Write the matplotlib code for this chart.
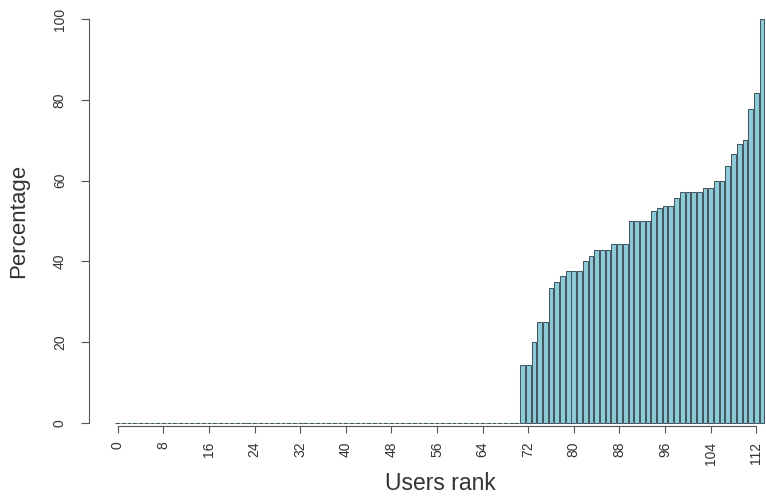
import matplotlib
matplotlib.use("Agg")
import matplotlib.pyplot as plt

plt.rcParams['font.family'] = ['Liberation Sans', 'DejaVu Sans']

# Users with zero percentage (ranks 0..70)
zero_values = [0, 0, 0, 0, 0, 0, 0, 0, 0, 0,
               0, 0, 0, 0, 0, 0, 0, 0, 0, 0,
               0, 0, 0, 0, 0, 0, 0, 0, 0, 0,
               0, 0, 0, 0, 0, 0, 0, 0, 0, 0,
               0, 0, 0, 0, 0, 0, 0, 0, 0, 0,
               0, 0, 0, 0, 0, 0, 0, 0, 0, 0,
               0, 0, 0, 0, 0, 0, 0, 0, 0, 0,
               0]
# Users with non-zero percentage (ranks 71..113)
nonzero_values = [14.3, 14.3, 20.0, 25.0, 25.0, 33.3, 35.0, 36.4, 37.5, 37.5,
                  37.5, 40.0, 41.2, 42.9, 42.9, 42.9, 44.4, 44.4, 44.4, 50.0,
                  50.0, 50.0, 50.0, 52.6, 53.3, 53.8, 53.8, 55.6, 57.1, 57.1,
                  57.1, 57.1, 58.3, 58.3, 60.0, 60.0, 63.6, 66.7, 69.2, 70.0,
                  77.8, 81.8, 100.0]
percentages = zero_values + nonzero_values
ranks = list(range(len(percentages)))
x_ticks = [0, 8, 16, 24, 32, 40, 48, 56, 64, 72, 80, 88, 96, 104, 112]
y_ticks = [0, 20, 40, 60, 80, 100]

W, H = 766, 497
fig = plt.figure(figsize=(W / 100, H / 100), dpi=100)

left_px, right_px = 89, 766
top_px, bottom_px = 19.3, 422.7
ax = fig.add_axes([left_px / W, (H - bottom_px) / H,
                   (right_px - left_px) / W, (bottom_px - top_px) / H])

unit = 5.702
x0 = 117.7
ax.set_xlim((left_px - x0) / unit, (right_px - x0) / unit)
ax.set_ylim(0, 100)

ax.bar(ranks, percentages, width=0.83, color='#8ecbd9',
       edgecolor='#435961', linewidth=0.75, clip_on=False)

axis_col = '#555555'
for s in ['top', 'right']:
    ax.spines[s].set_visible(False)
ax.spines['left'].set_bounds(0, 100)
ax.spines['left'].set_color(axis_col)
ax.spines['bottom'].set_bounds(0, 112)
ax.spines['bottom'].set_color(axis_col)
ax.spines['bottom'].set_position(('outward', 2.5))

ax.set_xticks(x_ticks)
ax.set_xticklabels([str(v) for v in x_ticks], rotation=90)
ax.set_yticks(y_ticks)
ax.set_yticklabels([str(v) for v in y_ticks], rotation=90, va='center')

ax.tick_params(axis='x', length=5, width=0.8, color=axis_col, pad=6,
               labelsize=10, labelcolor='#333333')
ax.tick_params(axis='y', length=6, width=0.8, color=axis_col, pad=10,
               labelsize=10, labelcolor='#333333')

fig.text(440 / W, 1 - 483 / H, 'Users rank', ha='center', va='center',
         fontsize=16.5, color='#333333')
fig.text(19 / W, 1 - 221 / H, 'Percentage', ha='center', va='center',
         fontsize=16, color='#333333', rotation=90)

fig.savefig('out.png', dpi=100)
